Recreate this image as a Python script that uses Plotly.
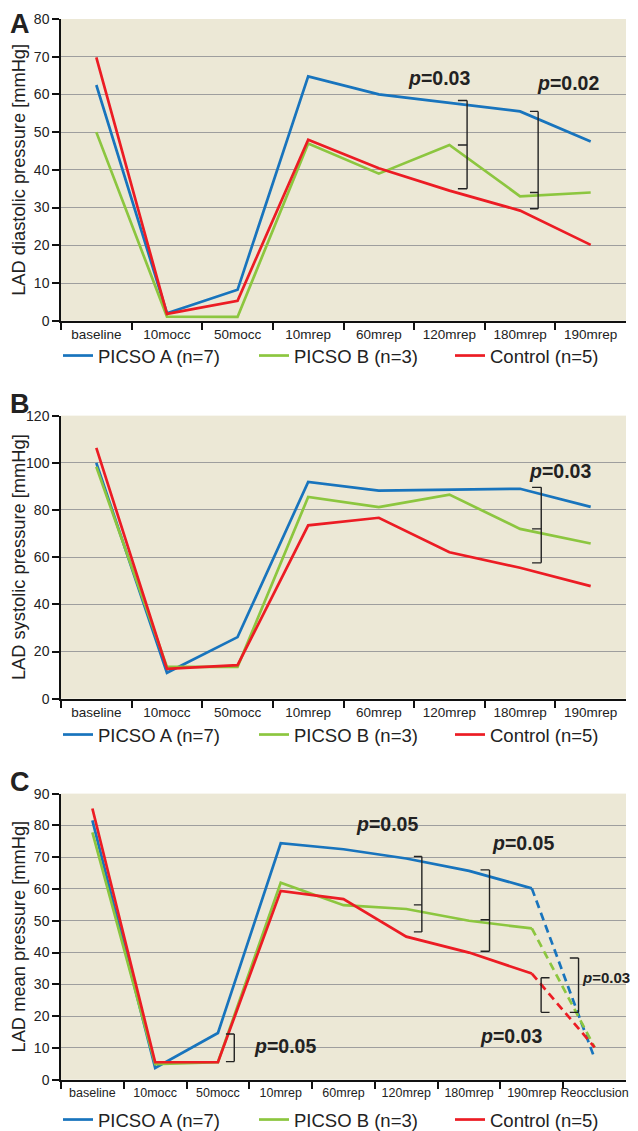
import plotly.graph_objects as go

# ---------------- data ----------------
cats_ab = ["baseline", "10mocc", "50mocc", "10mrep", "60mrep", "120mrep", "180mrep", "190mrep"]
cats_c = cats_ab + ["Reocclusion"]

series_names = ["PICSO A (n=7)", "PICSO B (n=3)", "Control (n=5)"]

# Panel A: LAD diastolic pressure
dia_picso_a = [62.5, 2.0, 8.2, 64.8, 60.0, 57.7, 55.5, 47.5]
dia_picso_b = [50.0, 1.1, 1.0, 47.0, 39.0, 46.6, 33.0, 34.0]
dia_control = [69.8, 1.8, 5.3, 48.0, 40.4, 34.5, 29.2, 20.1]

# Panel B: LAD systolic pressure
sys_picso_a = [100.0, 11.0, 26.1, 91.9, 88.2, 88.5, 89.0, 81.3]
sys_picso_b = [98.3, 13.5, 13.5, 85.5, 81.2, 86.5, 72.0, 65.8]
sys_control = [106.3, 12.7, 14.2, 73.5, 76.7, 62.1, 55.5, 47.7]

# Panel C: LAD mean pressure (last point = reocclusion, drawn dashed)
mean_picso_a = [81.6, 3.7, 14.7, 74.4, 72.5, 69.6, 65.7, 60.2, 6.7]
mean_picso_b = [77.8, 4.9, 5.5, 62.0, 54.9, 53.7, 50.0, 47.6, 10.2]
mean_control = [85.3, 5.5, 5.5, 59.4, 56.8, 45.0, 40.0, 33.4, 10.2]

colors = ["#1874BD", "#8CC63F", "#EC1C24"]

# ---------------- styling ----------------
REG = "Liberation Sans, Arial, Helvetica, sans-serif"
BG = "#ECE8D6"
GRID = "#9E9E9E"
W, H = 638, 1131
OFF = 8  # page body margin offset

fig = go.Figure()

panels = [
    dict(cats=cats_ab, series=[dia_picso_a, dia_picso_b, dia_control], xa="x", ya="y", leg="legend"),
    dict(cats=cats_ab, series=[sys_picso_a, sys_picso_b, sys_control], xa="x2", ya="y2", leg="legend2"),
]
for p in panels:
    for name, vals, col in zip(series_names, p["series"], colors):
        fig.add_trace(go.Scatter(x=p["cats"], y=vals, mode="lines", name=name,
                                 line=dict(color=col, width=2.7),
                                 xaxis=p["xa"], yaxis=p["ya"], legend=p["leg"]))

for name, vals, col in zip(series_names, [mean_picso_a, mean_picso_b, mean_control], colors):
    fig.add_trace(go.Scatter(x=cats_c[:8], y=vals[:8], mode="lines", name=name,
                             line=dict(color=col, width=2.7),
                             xaxis="x3", yaxis="y3", legend="legend3"))
for name, vals, col in zip(series_names, [mean_picso_a, mean_picso_b, mean_control], colors):
    fig.add_trace(go.Scatter(x=cats_c[7:], y=vals[7:], mode="lines", name=name,
                             line=dict(color=col, width=2.7, dash="8px,5px"),
                             showlegend=False,
                             xaxis="x3", yaxis="y3"))

xdom = [(61 - OFF) / W, (626 - OFF) / W]
ypix = [(19, 321), (416, 699.3), (794.3, 1080.7)]
ydoms = [[1 - (b - OFF) / H, 1 - (t - OFF) / H] for t, b in ypix]
yranges = [[0, 80], [0, 120], [0, 90]]
xranges = [[-0.5, len(cats_ab) - 0.5], [-0.5, len(cats_ab) - 0.5], [-0.5, len(cats_c) - 0.5]]
ydticks = [10, 20, 10]
ytitles = ["LAD diastolic pressure [mmHg]", "LAD systolic pressure [mmHg]", "LAD mean pressure [mmHg]"]
standoffs = [7, 1, 7]
xtick_sizes = [13.5, 13.5, 12.5]

layout = dict(width=W, height=H, margin=dict(l=0, r=0, t=0, b=0),
              paper_bgcolor="white", plot_bgcolor=BG, showlegend=True)

for i in range(3):
    sx = "" if i == 0 else str(i + 1)
    layout["xaxis" + sx] = dict(
        domain=xdom, anchor="y" + sx, type="category", range=xranges[i],
        automargin=False, tickangle=0,
        tickson="boundaries", ticks="outside", ticklen=7, tickwidth=1.5, tickcolor="#111",
        showline=True, linecolor="#111", linewidth=2, showgrid=False,
        tickfont=dict(family=REG, size=xtick_sizes[i], color="#222"), fixedrange=True)
    layout["yaxis" + sx] = dict(
        domain=ydoms[i], anchor="x" + sx, range=yranges[i], dtick=ydticks[i], automargin=False,
        ticks="outside", ticklen=7, tickwidth=1.5, tickcolor="#111",
        showline=True, linecolor="#111", linewidth=1.5,
        showgrid=True, gridcolor=GRID, gridwidth=1.3, zeroline=False,
        tickfont=dict(family=REG, size=14, color="#222"),
        title=dict(text=ytitles[i], font=dict(family=REG, size=18.3, color="#222"), standoff=standoffs[i]),
        fixedrange=True)

leg_y = [1 - 348 / H, 1 - 727 / H, 1 - 1112.5 / H]
for i in range(3):
    key = "legend" if i == 0 else "legend" + str(i + 1)
    layout[key] = dict(orientation="h", x=62 / W, xanchor="left", y=leg_y[i], yanchor="middle",
                       entrywidth=151, entrywidthmode="pixels", bgcolor="rgba(0,0,0,0)",
                       font=dict(family=REG, size=18.5, color="#222"), itemwidth=30,
                       tracegroupgap=0)

fig.update_layout(**layout)

# ---------------- brackets & p-values ----------------
BR = dict(color="#222", width=1.4)


def bracket(xa, ya, xv, ys, tick_to):
    """Vertical line at xv spanning ys (list of y levels); horizontal ticks to tick_to."""
    fig.add_shape(type="line", xref=xa, yref=ya, x0=xv, x1=xv, y0=min(ys), y1=max(ys), line=BR)
    for yv in ys:
        fig.add_shape(type="line", xref=xa, yref=ya, x0=tick_to, x1=xv, y0=yv, y1=yv, line=BR)


def pval(xa, ya, xv, yv, txt, anchor="center", size=19.5):
    fig.add_annotation(xref=xa, yref=ya, x=xv, y=yv, text="<b><i>p</i>=" + txt + "</b>",
                       showarrow=False, xanchor=anchor, yanchor="middle",
                       font=dict(family=REG, size=size, color="#222"))


# Panel A
bracket("x", "y", 5.25, [58.4, 46.6, 35.0], 5.12)
bracket("x", "y", 6.256, [55.5, 34.0, 29.7], 6.14)
pval("x", "y", 4.85, 64.4, "0.03")
pval("x", "y", 6.68, 63.0, "0.02")

# Panel B
bracket("x2", "y2", 6.30, [89.6, 72.0, 57.6], 6.17)
pval("x2", "y2", 6.57, 96.4, "0.03")

# Panel C
bracket("x3", "y3", 2.26, [14.4, 5.7], 2.127)
pval("x3", "y3", 3.07, 10.7, "0.05")
bracket("x3", "y3", 5.248, [70.2, 55.0, 46.5], 5.121)
pval("x3", "y3", 4.69, 80.4, "0.05")
bracket("x3", "y3", 6.326, [66.0, 50.3, 40.4], 6.183)
pval("x3", "y3", 6.857, 74.4, "0.05")
bracket("x3", "y3", 7.744, [38.3, 21.2], 7.605)
pval("x3", "y3", 7.77, 32.3, "0.03", anchor="left", size=15)
bracket("x3", "y3", 7.148, [32.1, 21.2], 7.282)
pval("x3", "y3", 6.67, 13.8, "0.03")

# Panel letters
for letter, ytop in zip(["A", "B", "C"], [-1, 379, 758]):
    fig.add_annotation(xref="paper", yref="paper", x=0, y=1 - ytop / H, text="<b>" + letter + "</b>",
                       showarrow=False, xanchor="left", yanchor="top",
                       font=dict(family=REG, size=27, color="#222"))

fig.write_html("out.html")
